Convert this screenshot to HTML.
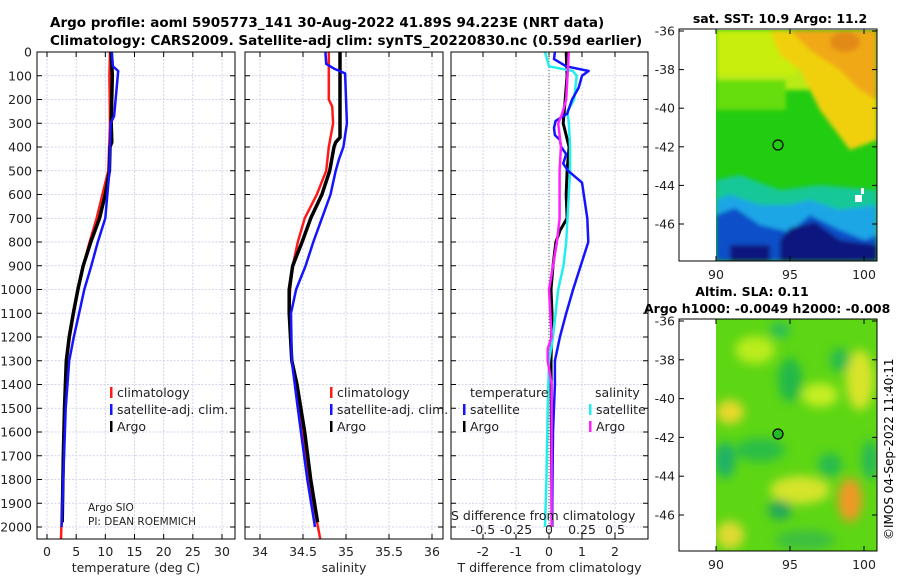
<!DOCTYPE html>
<html><head><meta charset="utf-8"><style>
html,body{margin:0;padding:0;background:#fff}
svg{display:block;font-family:"DejaVu Sans","Liberation Sans",sans-serif}
</style></head><body>
<svg id="fig" width="900" height="580" viewBox="0 0 900 580">
<defs>
<filter id="blur4" x="-20%" y="-20%" width="140%" height="140%"><feGaussianBlur stdDeviation="5"/></filter>
<filter id="blur2"><feGaussianBlur stdDeviation="2"/></filter>
<clipPath id="m1clip"><rect x="716" y="30" width="161" height="231"/></clipPath>
<clipPath id="m2clip"><rect x="716" y="319" width="161" height="232"/></clipPath>
</defs>
<text x="50" y="27" font-size="13.5" font-weight="bold">Argo profile: aoml 5905773_141 30-Aug-2022 41.89S 94.223E (NRT data)</text>
<text x="50" y="45" font-size="13.5" font-weight="bold">Climatology: CARS2009. Satellite-adj clim: synTS_20220830.nc (0.59d earlier)</text>
<g id="panels"></g>

<!-- map 1 SST -->
<g>
<text x="780" y="23" font-size="12.5" font-weight="bold" text-anchor="middle">sat. SST: 10.9 Argo: 11.2</text>
<g clip-path="url(#m1clip)">
<rect x="716" y="30" width="161" height="231" fill="#22cc11"/>
<g filter="url(#blur2)">
<rect x="716" y="30" width="161" height="60" fill="#b8ea16"/>
<rect x="716" y="30" width="80" height="45" fill="#c8ee10"/>
<polygon points="770,30 877,30 877,140 850,150 820,110 800,70 780,55" fill="#f0d010"/>
<polygon points="790,30 877,30 877,100 860,90 840,70 810,50" fill="#f0a812"/>
<ellipse cx="845" cy="42" rx="15" ry="10" fill="#e28a14"/>
<rect x="716" y="80" width="70" height="30" fill="#66dd10"/>
<polygon points="716,180 740,175 780,190 820,185 877,190 877,261 716,261" fill="#16c898"/>
<polygon points="716,200 730,195 760,205 790,205 810,200 840,210 877,205 877,261 716,261" fill="#1aa6e6"/>
<polygon points="716,215 735,208 760,225 790,232 810,215 840,230 865,240 877,235 877,261 716,261" fill="#1050c8"/>
<polygon points="780,240 790,228 815,222 840,240 877,245 877,261 780,261" fill="#07147e"/>
<rect x="730" y="245" width="40" height="16" fill="#07147e"/>
</g>
<rect x="855" y="195" width="7" height="7" fill="#fff"/>
<rect x="861" y="188" width="3" height="6" fill="#fff"/>
</g>
<circle cx="778" cy="145" r="5" fill="#22cc11" stroke="#000" stroke-width="1.2"/>
<rect x="679" y="29" width="198" height="232" fill="none" stroke="#000" stroke-width="1"/>
<g id="map1ticks"></g>
</g>

<!-- map 2 SLA -->
<g>
<text x="752" y="296" font-size="12.5" font-weight="bold" text-anchor="middle">Altim. SLA: 0.11</text>
<text x="644" y="313" font-size="12.5" font-weight="bold">Argo h1000: -0.0049 h2000: -0.008</text>
<g clip-path="url(#m2clip)">
<rect x="716" y="319" width="161" height="232" fill="#5dd614"/>
<g filter="url(#blur4)">
<ellipse cx="730" cy="412" rx="14" ry="12" fill="#e8d82c"/>
<ellipse cx="755" cy="350" rx="20" ry="14" fill="#b9ec1a"/>
<ellipse cx="780" cy="330" rx="10" ry="8" fill="#2cbe5a"/>
<ellipse cx="790" cy="380" rx="12" ry="22" fill="#22b84a"/>
<ellipse cx="820" cy="395" rx="18" ry="12" fill="#c6ee20"/>
<ellipse cx="860" cy="380" rx="14" ry="30" fill="#d8e42a"/>
<ellipse cx="840" cy="360" rx="10" ry="12" fill="#28bb50"/>
<ellipse cx="760" cy="450" rx="25" ry="12" fill="#2cbe44"/>
<ellipse cx="725" cy="460" rx="10" ry="18" fill="#1fb06a"/>
<ellipse cx="800" cy="490" rx="30" ry="14" fill="#d6e42c"/>
<ellipse cx="850" cy="500" rx="12" ry="22" fill="#f09826"/>
<ellipse cx="830" cy="465" rx="12" ry="12" fill="#28bb50"/>
<ellipse cx="780" cy="510" rx="12" ry="10" fill="#22a85a"/>
<ellipse cx="730" cy="535" rx="14" ry="14" fill="#e0da30"/>
<ellipse cx="805" cy="540" rx="30" ry="10" fill="#3cc040"/>
<ellipse cx="870" cy="460" rx="8" ry="20" fill="#26b858"/>
</g>
</g>
<circle cx="778" cy="434" r="5" fill="#22bb22" stroke="#000" stroke-width="1.2"/>
<rect x="679" y="319" width="198" height="232" fill="none" stroke="#000" stroke-width="1"/>
<g id="map2ticks"></g>
</g>
<text transform="translate(893,540) rotate(-90)" font-size="12">©IMOS 04-Sep-2022 11:40:11</text>
</svg>
<script>
// ---------- data ----------
var depthTicks=[0,100,200,300,400,500,600,700,800,900,1000,1100,1200,1300,1400,1500,1600,1700,1800,1900,2000];
var tempTicks=[0,5,10,15,20,25,30];
var salTicks=[34,34.5,35,35.5,36];
var salTickLabels=["34","34.5","35","35.5","36"];
var dTTicks=[-2,-1,0,1,2];
var dSTicks=[-0.5,-0.25,0,0.25,0.5];
var dSTickLabels=["-0.5","-0.25","0","0.25","0.5"];

var tArgoZ=[0,100,300,380,400,500,600,700,800,900,1000,1100,1200,1300,1500,1700,1980];
var tArgoV=[11,11.2,11,11.1,10.8,10.7,10,9,7.5,6.2,5.3,4.5,3.8,3.3,3,2.8,2.6];
var tClimZ=[0,100,300,500,600,700,800,900,1000,1100,1200,1300,1500,1800,2050];
var tClimV=[10.8,10.7,10.8,10.5,9.5,8.5,7.3,6.2,5.3,4.6,3.9,3.4,3,2.7,2.4];
var tSatZ=[0,60,80,270,300,500,700,800,900,1000,1100,1200,1300,1500,2000];
var tSatV=[11.1,11.3,12.2,11.5,10.9,10.7,10,8.7,7.6,6.4,5.5,4.6,3.8,3.2,2.5];

var sArgoZ=[0,360,380,400,500,600,700,800,900,1000,1100,1300,1400,1600,1800,1980];
var sArgoV=[34.93,34.93,34.88,34.86,34.81,34.72,34.59,34.49,34.38,34.34,34.34,34.37,34.43,34.52,34.59,34.67];
var sClimZ=[0,200,230,300,400,500,600,700,800,900,1000,1100,1300,1500,1800,2050];
var sClimV=[34.8,34.8,34.84,34.85,34.8,34.77,34.66,34.52,34.44,34.38,34.35,34.34,34.37,34.45,34.57,34.7];
var sSatZ=[0,50,70,90,300,400,450,500,600,700,800,900,1000,1100,1300,1500,1800,2000];
var sSatV=[34.76,34.77,34.86,34.99,35.01,34.97,34.92,34.88,34.82,34.72,34.62,34.53,34.42,34.36,34.37,34.44,34.55,34.64];

var dtSatZ=[0,30,60,80,100,150,200,260,290,320,350,370,400,430,470,500,550,700,800,1000,1100,1200,1300,1400,1600,2000];
var dtSatV=[0.18,0.15,0.52,1.2,1.0,0.9,0.7,0.55,0.2,0.15,0.18,0.33,0.37,0.52,0.43,0.58,1.0,1.16,1.19,0.73,0.52,0.33,0.18,0.18,0.12,0.09];
var dtArgoZ=[0,100,200,300,400,500,600,700,750,800,900,1000,1100,1300,2000];
var dtArgoV=[0.52,0.55,0.49,0.43,0.61,0.55,0.52,0.55,0.34,0.21,0.12,0.06,0.09,0.06,0.09];
var dsSatZ=[0,60,80,100,200,250,300,400,500,600,700,800,900,1000,1100,1200,1300,1500,1800,2000];
var dsSatV=[-0.03,0,0.18,0.21,0.19,0.14,0.15,0.16,0.16,0.15,0.14,0.13,0.11,0.07,0.05,0.03,0,-0.01,-0.02,-0.03];
var dsArgoZ=[0,100,200,260,300,350,400,500,700,800,900,1000,1100,1200,1250,1300,1400,1600,2000];
var dsArgoV=[0.15,0.14,0.13,0.1,0.07,0.08,0.09,0.08,0.08,0.06,0.03,0,0.01,0.02,-0.01,-0.01,0.02,0.02,0.02];

var mapLatTicks=[-36,-38,-40,-42,-44,-46];
var mapLonTicks=[90,95,100];

// ---------- helpers ----------
var NS="http://www.w3.org/2000/svg";
var fig=document.getElementById('panels');
function el(tag,attrs,parent){var e=document.createElementNS(NS,tag);for(var k in attrs)e.setAttribute(k,attrs[k]);(parent||fig).appendChild(e);return e;}
var Y0=52,Y1=539;
function yD(d){return Y0+d*0.2375;}
function linX(v0,p0,v1,p1){return function(v){return p0+(v-v0)*(p1-p0)/(v1-v0);};}

var panels=[
 {x0:37,x1:235,sx:linX(0,47,30,222),ticks:tempTicks,labels:tempTicks.map(String),xlab:"temperature (deg C)",name:"temperature"},
 {x0:245,x1:443,sx:linX(34,260,36,432),ticks:salTicks,labels:salTickLabels,xlab:"salinity",name:"salinity"},
 {x0:451,x1:648,sx:linX(0,549,2,615),ticks:dTTicks,labels:dTTicks.map(String),xlab:"T difference from climatology",name:"difference"}
];
panels.forEach(function(p,pi){
  var g=el('g',{});
  
  
  el('rect',{x:p.x0,y:Y0,width:p.x1-p.x0,height:Y1-Y0,fill:'#fff'},g);
  depthTicks.forEach(function(d){
    var y=yD(d);
    el('line',{x1:p.x0,x2:p.x1,y1:y,y2:y,stroke:'#c8c8e8','stroke-width':0.8,'stroke-dasharray':'2,1.5'},g);
    el('line',{x1:p.x0,x2:p.x0+5,y1:y,y2:y,stroke:'#000'},g);
    el('line',{x1:p.x1-5,x2:p.x1,y1:y,y2:y,stroke:'#000'},g);
    if(pi==0){var t=el('text',{x:p.x0-5,y:y+4.5,'font-size':12.5,'text-anchor':'end',fill:'#222'},g);t.textContent=d;
      }
  });
  p.ticks.forEach(function(v,i){
    var x=p.sx(v);
    el('line',{x1:x,x2:x,y1:Y0,y2:Y1,stroke:'#c8c8e8','stroke-width':0.8,'stroke-dasharray':'2,1.5'},g);
    el('line',{x1:x,x2:x,y1:Y1-5,y2:Y1,stroke:'#000'},g);
    el('line',{x1:x,x2:x,y1:Y0,y2:Y0+5,stroke:'#000'},g);
    var t=el('text',{x:x,y:556,'font-size':12.5,'text-anchor':'middle',fill:'#222'},g);t.textContent=p.labels[i];
    
  });
  var xl=el('text',{x:(p.x0+p.x1)/2,y:572,'font-size':12.5,'text-anchor':'middle',fill:'#222'},g);xl.textContent=p.xlab;
  
  p.g=g;
});
// depth 2000 shown already; box borders later

function drawLine(g,sx,Z,V,color,w,name){
  var pts=Z.map(function(z,i){return sx(V[i]).toFixed(1)+','+yD(z).toFixed(1);}).join(' ');
  var l=el('polyline',{points:pts,fill:'none',stroke:color,'stroke-width':w,'stroke-linejoin':'round'},g);
  
  
}
var P=panels;
drawLine(P[0].g,P[0].sx,tClimZ,tClimV,'#ff1a1a',2.5,'temp-climatology-line');
drawLine(P[0].g,P[0].sx,tArgoZ,tArgoV,'#000',3.5,'temp-argo-line');
drawLine(P[0].g,P[0].sx,tSatZ,tSatV,'#1414ff',2.5,'temp-satellite-line');
drawLine(P[1].g,P[1].sx,sClimZ,sClimV,'#ff1a1a',2.5,'sal-climatology-line');
drawLine(P[1].g,P[1].sx,sArgoZ,sArgoV,'#000',3.5,'sal-argo-line');
drawLine(P[1].g,P[1].sx,sSatZ,sSatV,'#1414ff',2.5,'sal-satellite-line');
var sxS=linX(0,549,0.5,615);
el('line',{x1:549,x2:549,y1:Y0,y2:Y1,stroke:'#446644','stroke-width':1,'stroke-dasharray':'1,2'},P[2].g);
drawLine(P[2].g,P[2].sx,dtArgoZ,dtArgoV,'#000',3,'dT-argo-line');
drawLine(P[2].g,sxS,dsSatZ,dsSatV,'#22eeee',2.5,'dS-satellite-line');
drawLine(P[2].g,P[2].sx,dtSatZ,dtSatV,'#1414ff',2.5,'dT-satellite-line');
drawLine(P[2].g,sxS,dsArgoZ,dsArgoV,'#ff22ff',2.5,'dS-argo-line');
panels.forEach(function(p){el('rect',{x:p.x0,y:Y0,width:p.x1-p.x0,height:Y1-Y0,fill:'none',stroke:'#000','stroke-width':1},p.g);});

// legends
function legend(g,x,y,items,name){
  var lg=el('g',{},g);
  
  
  items.forEach(function(it,i){
    var yy=y+i*17;
    el('rect',{x:x,y:yy-10,width:2.5,height:11,fill:it[1]},lg);
    var t=el('text',{x:x+7,y:yy,'font-size':12.5,fill:'#222'},lg);t.textContent=it[0];
  });
}
legend(P[0].g,110,397,[["climatology","#ff1a1a"],["satellite-adj. clim.","#1414ff"],["Argo","#000"]],'temp-legend');
legend(P[1].g,330,397,[["climatology","#ff1a1a"],["satellite-adj. clim.","#1414ff"],["Argo","#000"]],'sal-legend');
var th=el('text',{x:470,y:397,'font-size':12.5,fill:'#222'},P[2].g);th.textContent="temperature";
var sh=el('text',{x:595,y:397,'font-size':12.5,fill:'#222'},P[2].g);sh.textContent="salinity";
legend(P[2].g,463,414,[["satellite","#1414ff"],["Argo","#000"]],'dT-legend');
legend(P[2].g,589,414,[["satellite","#22eeee"],["Argo","#ff22ff"]],'dS-legend');
var sl=el('text',{x:451,y:520,'font-size':12.5,fill:'#222'},P[2].g);sl.textContent="S difference from climatology";
dSTicks.forEach(function(v,i){var t=el('text',{x:sxS(v),y:534,'font-size':12.5,'text-anchor':'middle',fill:'#222'},P[2].g);t.textContent=dSTickLabels[i];});
var a1=el('text',{x:88,y:511,'font-size':10.5,fill:'#222'},P[0].g);a1.textContent="Argo SIO";
var a2=el('text',{x:88,y:525,'font-size':10.5,fill:'#222'},P[0].g);a2.textContent="PI: DEAN ROEMMICH";

// map ticks
function mapTicks(gid,latTop,latStep){
  var g=document.getElementById(gid);
  var top=gid=='map1ticks'?29:319,bot=top+232;
  mapLatTicks.forEach(function(v){
    var y=latTop+(v+36)*(-latStep);
    el('line',{x1:679,x2:684,y1:y,y2:y,stroke:'#000'},g);
    el('line',{x1:872,x2:877,y1:y,y2:y,stroke:'#000'},g);
    var t=el('text',{x:675,y:y+4.5,'font-size':12.5,'text-anchor':'end',fill:'#222'},g);t.textContent=v;
  });
  var lx=linX(90,716,100,864);
  mapLonTicks.forEach(function(v){
    var x=lx(v);
    el('line',{x1:x,x2:x,y1:bot-5,y2:bot,stroke:'#000'},g);
    el('line',{x1:x,x2:x,y1:top,y2:top+5,stroke:'#000'},g);
    var t=el('text',{x:x,y:bot+18,'font-size':12.5,'text-anchor':'middle',fill:'#222'},g);t.textContent=v;
  });
}
mapTicks('map1ticks',31,19.3);
mapTicks('map2ticks',321,19.4);
</script>
</body></html>
